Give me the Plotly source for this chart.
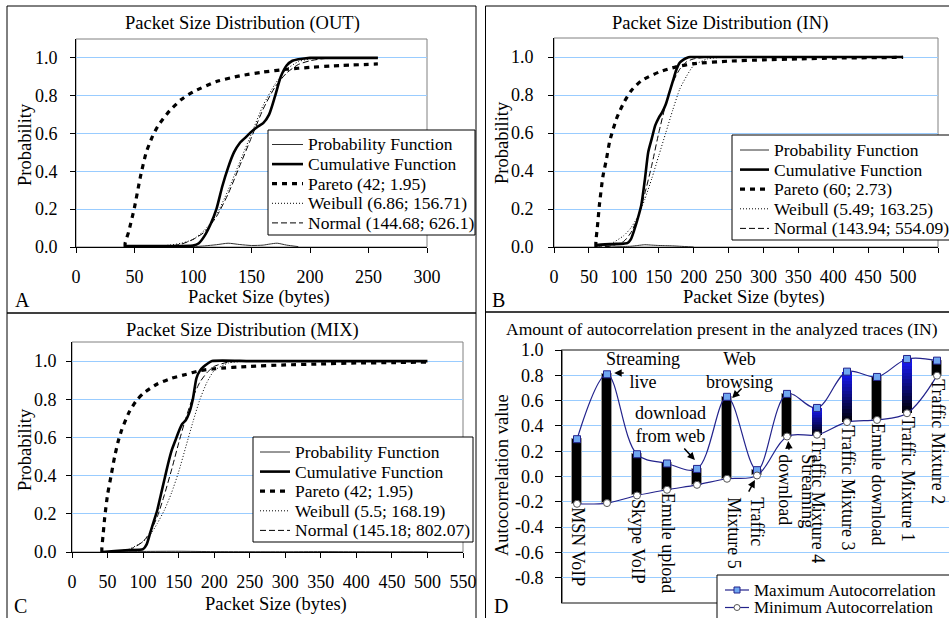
import plotly.graph_objects as go

FONT = "Liberation Serif"
W, H = 949, 618

# ---------------- Panel A: Packet Size Distribution (OUT) ----------------
a_prob_x = [42, 80, 100, 110, 120, 130, 140, 150, 160, 166, 172, 180, 190]
a_prob_y = [0.0, 0.0, 0.002, 0.006, 0.012, 0.02, 0.013, 0.008, 0.01, 0.016, 0.02, 0.01, 0.002]
a_cum_x = [42, 60, 80, 100, 105, 110, 115, 120, 125, 130, 135, 140, 145, 150, 155, 160, 165, 170, 175, 180, 185, 190, 195, 200, 210, 258]
a_cum_y = [0.005, 0.005, 0.005, 0.008, 0.02, 0.06, 0.12, 0.2, 0.32, 0.42, 0.5, 0.55, 0.58, 0.61, 0.635, 0.655, 0.7, 0.795, 0.9, 0.96, 0.985, 0.993, 0.997, 1.0, 1.0, 1.0]
a_par_x = [42, 42, 45, 50, 55, 60, 65, 70, 80, 90, 100, 120, 140, 160, 180, 200, 220, 258]
a_par_y = [0.0, 0.02, 0.08, 0.21, 0.37, 0.5, 0.58, 0.64, 0.72, 0.78, 0.82, 0.875, 0.905, 0.925, 0.94, 0.95, 0.958, 0.968]
a_wei_x = [60, 80, 90, 100, 110, 120, 130, 140, 150, 160, 170, 180, 190, 200, 210, 220, 258]
a_wei_y = [0.0, 0.01, 0.02, 0.04, 0.09, 0.17, 0.3, 0.45, 0.6, 0.75, 0.86, 0.94, 0.98, 0.995, 1.0, 1.0, 1.0]
a_nor_x = [60, 80, 90, 100, 110, 120, 130, 140, 150, 160, 170, 180, 190, 200, 210, 220, 258]
a_nor_y = [0.0, 0.005, 0.015, 0.04, 0.08, 0.16, 0.28, 0.43, 0.58, 0.73, 0.845, 0.92, 0.965, 0.985, 0.995, 1.0, 1.0]
a_names = ["Probability Function", "Cumulative Function", "Pareto (42; 1.95)",
           "Weibull (6.86; 156.71)", "Normal (144.68; 626.1)"]

# ---------------- Panel B: Packet Size Distribution (IN) ----------------
b_prob_x = [60, 80, 100, 110, 120, 130, 140, 150, 160, 170, 180, 200]
b_prob_y = [0.01, 0.006, 0.003, 0.004, 0.008, 0.012, 0.01, 0.008, 0.007, 0.006, 0.004, 0.0]
b_cum_x = [60, 80, 100, 105, 110, 115, 120, 125, 130, 135, 140, 145, 150, 155, 160, 165, 170, 175, 180, 185, 190, 195, 200, 300, 400, 500]
b_cum_y = [0.01, 0.015, 0.018, 0.02, 0.04, 0.09, 0.15, 0.22, 0.35, 0.5, 0.57, 0.64, 0.68, 0.71, 0.75, 0.81, 0.87, 0.93, 0.97, 0.985, 0.995, 1.0, 1.0, 1.0, 1.0, 1.0]
b_par_x = [60, 60, 62, 65, 70, 75, 80, 90, 100, 110, 125, 150, 175, 200, 250, 300, 350, 400, 500]
b_par_y = [0.0, 0.03, 0.1, 0.22, 0.37, 0.46, 0.56, 0.68, 0.76, 0.82, 0.875, 0.92, 0.948, 0.965, 0.978, 0.985, 0.99, 0.994, 0.998]
b_wei_x = [60, 80, 100, 110, 120, 130, 140, 150, 160, 170, 180, 190, 200, 220, 250, 300, 500]
b_wei_y = [0.003, 0.015, 0.06, 0.1, 0.16, 0.25, 0.36, 0.48, 0.6, 0.72, 0.83, 0.9, 0.955, 0.99, 1.0, 1.0, 1.0]
b_nor_x = [60, 80, 100, 110, 120, 130, 140, 150, 160, 170, 180, 190, 200, 220, 250, 500]
b_nor_y = [0.0, 0.004, 0.03, 0.075, 0.155, 0.28, 0.43, 0.6, 0.75, 0.865, 0.935, 0.975, 0.99, 0.999, 1.0, 1.0]
b_names = ["Probability Function", "Cumulative Function", "Pareto (60; 2.73)",
           "Weibull (5.49; 163.25)", "Normal (143.94; 554.09)"]

# ---------------- Panel C: Packet Size Distribution (MIX) ----------------
c_prob_x = [42, 100, 150, 200, 300, 350, 400, 500]
c_prob_y = [0.0, 0.003, 0.004, 0.002, 0.001, 0.002, 0.001, 0.0]
c_cum_x = [42, 60, 80, 100, 105, 110, 115, 120, 125, 130, 135, 140, 145, 150, 155, 160, 165, 170, 175, 180, 185, 190, 197, 250, 300, 400, 500]
c_cum_y = [0.0, 0.005, 0.01, 0.015, 0.04, 0.1, 0.16, 0.22, 0.3, 0.38, 0.46, 0.53, 0.58, 0.63, 0.67, 0.69, 0.73, 0.8, 0.91, 0.95, 0.97, 0.985, 1.0, 1.0, 1.0, 1.0, 1.0]
c_par_x = [42, 42, 44, 46, 50, 55, 60, 65, 70, 80, 90, 100, 120, 140, 160, 180, 200, 250, 300, 350, 400, 450, 500]
c_par_y = [0.0, 0.02, 0.1, 0.18, 0.3, 0.4, 0.5, 0.58, 0.64, 0.73, 0.79, 0.83, 0.88, 0.91, 0.93, 0.95, 0.96, 0.972, 0.98, 0.985, 0.99, 0.992, 0.995]
c_wei_x = [42, 60, 80, 100, 110, 120, 130, 140, 150, 160, 170, 180, 190, 200, 220, 250, 300, 500]
c_wei_y = [0.0, 0.003, 0.015, 0.055, 0.09, 0.15, 0.22, 0.31, 0.42, 0.55, 0.68, 0.8, 0.89, 0.95, 0.99, 1.0, 1.0, 1.0]
c_nor_x = [42, 60, 80, 100, 110, 120, 130, 140, 150, 160, 170, 180, 190, 200, 220, 250, 500]
c_nor_y = [0.0, 0.002, 0.01, 0.055, 0.105, 0.185, 0.3, 0.43, 0.57, 0.7, 0.81, 0.89, 0.94, 0.972, 0.995, 1.0, 1.0]
c_names = ["Probability Function", "Cumulative Function", "Pareto (42; 1.95)",
           "Weibull (5.5; 168.19)", "Normal (145.18; 802.07)"]

prob_ytick_vals = [0.0, 0.2, 0.4, 0.6, 0.8, 1.0]
prob_ytick_text = ["0.0", "0.2", "0.4", "0.6", "0.8", "1.0"]
a_xtick_vals = [0, 50, 100, 150, 200, 250, 300]
bc_xtick_vals = [0, 50, 100, 150, 200, 250, 300, 350, 400, 450, 500, 550]

# ---------------- Panel D: autocorrelation (IN) ----------------
d_cats = ["MSN VoIP", "Streaming live", "Skype VoIP", "Emule upload", "download from web",
          "Web browsing", "Traffic Mixture 5", "Streaming download", "Traffic Mixture 4",
          "Traffic Mixture 3", "Emule download", "Traffic Mixture 1", "Traffic Mixture 2"]
d_max = [0.295, 0.808, 0.176, 0.103, 0.06, 0.63, 0.05, 0.653, 0.542, 0.829, 0.787, 0.929, 0.916]
d_min = [-0.216, -0.21, -0.15, -0.105, -0.066, -0.018, 0.008, 0.316, 0.33, 0.43, 0.447, 0.5, 0.797]
d_ytick_vals = [-0.8, -0.6, -0.4, -0.2, 0.0, 0.2, 0.4, 0.6, 0.8, 1.0]
d_ytick_text = ["-0.8", "-0.6", "-0.4", "-0.2", "0.0", "0.2", "0.4", "0.6", "0.8", "1.0"]
d_names = ["Maximum Autocorrelation", "Minimum Autocorrelation"]
# categories labelled by call-outs instead of rotated labels
d_callouts = {"Streaming live", "download from web", "Web browsing", "Traffic Mixture 5", "Streaming download"}
# bars drawn with a blue-to-black gradient
d_blue = {"Traffic Mixture 4", "Traffic Mixture 3", "Traffic Mixture 1"}

# ---------------- styles ----------------
STY = [
    dict(color="#303030", width=1),
    dict(color="black", width=2.6),
    dict(color="black", width=3.2, dash="5px,5px"),
    dict(color="black", width=1, dash="1px,2px"),
    dict(color="black", width=1, dash="6px,3px"),
]
GRID = "#99ccff"
NAVY = "#23238c"
MAXFILL = "#6fa6f0"
LEGSIZE = 17.5
TSIZE = 18.5


def px(x):
    return x / W


def py(y):
    return 1 - y / H


fig = go.Figure()
shapes = []
annos = []


def txt(x, y, s, size=18, xa="center", ya="middle", **kw):
    annos.append(dict(xref="paper", yref="paper", x=px(x), y=py(y), text=s, showarrow=False,
                      xanchor=xa, yanchor=ya, font=dict(family=FONT, size=size, color="black"), **kw))


def legend_box(x0, y0, x1, y1, first, step, sx0, sx1, tx, entries, size=LEGSIZE):
    shapes.append(dict(type="rect", xref="paper", yref="paper", x0=px(x0), x1=px(x1), y0=py(y0), y1=py(y1),
                       line=dict(color="black", width=1), fillcolor="white", layer="above"))
    for k, (name, sty, mk) in enumerate(entries):
        yy = first + k * step
        ln = dict(color=sty["color"], width=sty["width"])
        if "dash" in sty:
            ln["dash"] = sty["dash"]
        shapes.append(dict(type="line", xref="paper", yref="paper", x0=px(sx0), x1=px(sx1), y0=py(yy), y1=py(yy),
                           line=ln, layer="above"))
        if mk is not None:
            cx = (sx0 + sx1) / 2
            r = 3
            shapes.append(dict(type=mk[0], xref="paper", yref="paper", x0=px(cx - r), x1=px(cx + r),
                               y0=py(yy + r), y1=py(yy - r), fillcolor=mk[1],
                               line=dict(color=mk[2], width=1), layer="above"))
        txt(tx, yy, name, size=size, xa="left")


panels = [
    dict(n="", data=[(a_prob_x, a_prob_y), (a_cum_x, a_cum_y), (a_par_x, a_par_y), (a_wei_x, a_wei_y), (a_nor_x, a_nor_y)],
         names=a_names, xr=[0, 300], xt=a_xtick_vals, dom=(76, 427, 39, 247), ysd=9,
         leg=(268, 130, 475, 235, 144.5, 19.6, 272, 303, 306)),
    dict(n="2", data=[(b_prob_x, b_prob_y), (b_cum_x, b_cum_y), (b_par_x, b_par_y), (b_wei_x, b_wei_y), (b_nor_x, b_nor_y)],
         names=b_names, xr=[0, 550], xt=bc_xtick_vals, dom=(554, 938, 38, 247), ysd=11,
         leg=(732, 135, 951, 240, 150, 19.6, 740, 769, 772)),
    dict(n="3", data=[(c_prob_x, c_prob_y), (c_cum_x, c_cum_y), (c_par_x, c_par_y), (c_wei_x, c_wei_y), (c_nor_x, c_nor_y)],
         names=c_names, xr=[0, 550], xt=bc_xtick_vals, dom=(72, 463, 342, 552), ysd=6,
         leg=(253, 437, 473, 542, 452, 19.6, 260, 290, 293)),
]

layout_axes = {}
for p in panels:
    n = p["n"]
    order = [0, 4, 3, 2, 1]
    for i in order:
        xs, ys = p["data"][i]
        ln = dict(STY[i])
        ln["shape"] = "spline"
        ln["smoothing"] = 0.6
        fig.add_trace(go.Scatter(x=xs, y=ys, mode="lines", name=p["names"][i], line=ln,
                                 xaxis="x" + n, yaxis="y" + n, showlegend=False, hoverinfo="skip"))
    x0, x1, y0, y1 = p["dom"]
    layout_axes["xaxis" + n] = dict(
        domain=[px(x0), px(x1)], range=p["xr"], tickvals=p["xt"], showgrid=False, zeroline=False,
        showline=True, linecolor="black", linewidth=1, ticks="outside", ticklen=5, tickcolor="black",
        tickfont=dict(family=FONT, size=18, color="black"), ticklabelstandoff=8, automargin=False,
        anchor="y" + n, fixedrange=True)
    layout_axes["yaxis" + n] = dict(
        domain=[py(y1), py(y0)], range=[0, 1.1], tickvals=prob_ytick_vals, ticktext=prob_ytick_text,
        showgrid=True, gridcolor=GRID, gridwidth=1, zeroline=False,
        showline=True, linecolor="black", linewidth=1, ticks="outside", ticklen=5, tickcolor="black",
        tickfont=dict(family=FONT, size=18, color="black"), ticklabelstandoff=p["ysd"], automargin=False,
        anchor="x" + n, fixedrange=True)
    shapes.append(dict(type="rect", xref="x%s domain" % n, yref="y%s domain" % n, x0=0, x1=1, y0=0, y1=1,
                       line=dict(color="#808080", width=1), layer="below"))
    L = p["leg"]
    legend_box(L[0], L[1], L[2], L[3], L[4], L[5], L[6], L[7], L[8],
               [(p["names"][i], STY[i], None) for i in range(5)])

# ---------------- Panel D traces ----------------
black_idx = [i for i, c in enumerate(d_cats) if c not in d_blue]
fig.add_trace(go.Bar(
    x=[d_cats[i] for i in black_idx], base=[d_min[i] for i in black_idx],
    y=[d_max[i] - d_min[i] for i in black_idx], width=0.36,
    marker=dict(color="black", line=dict(color="#9a9a9a", width=1)),
    xaxis="x4", yaxis="y4", showlegend=False, hoverinfo="skip"))
blue_idx = [i for i, c in enumerate(d_cats) if c in d_blue]
NSEG = 16
for k in range(NSEG):
    f = (k + 0.5) / NSEG
    col = "rgb(%d,%d,%d)" % (int(25 * f), int(25 * f), int(250 * f))
    fig.add_trace(go.Bar(
        x=[d_cats[i] for i in blue_idx],
        base=[d_min[i] + (d_max[i] - d_min[i]) * k / NSEG for i in blue_idx],
        y=[(d_max[i] - d_min[i]) / NSEG * 1.02 for i in blue_idx], width=0.36,
        marker=dict(color=col, line=dict(width=0)),
        xaxis="x4", yaxis="y4", showlegend=False, hoverinfo="skip"))

fig.add_trace(go.Scatter(
    x=d_cats, y=d_max, mode="lines+markers", name=d_names[0],
    line=dict(color=NAVY, width=1.2, shape="spline", smoothing=1.0),
    marker=dict(symbol="square", size=7, color=MAXFILL, line=dict(color=NAVY, width=1)),
    xaxis="x4", yaxis="y4", showlegend=False, hoverinfo="skip"))
fig.add_trace(go.Scatter(
    x=d_cats, y=d_min, mode="lines+markers", name=d_names[1],
    line=dict(color=NAVY, width=1.2, shape="spline", smoothing=1.0),
    marker=dict(symbol="circle", size=7, color="white", line=dict(color="#555555", width=1)),
    xaxis="x4", yaxis="y4", showlegend=False, hoverinfo="skip"))

layout_axes["xaxis4"] = dict(
    domain=[px(562), 1.0], type="category", categoryorder="array", categoryarray=d_cats,
    range=[-0.5, 12.4], showticklabels=False, showgrid=False, zeroline=False, ticks="",
    showline=False, anchor="y4", fixedrange=True, automargin=False)
layout_axes["yaxis4"] = dict(
    domain=[py(603), py(350)], range=[-1.0, 1.0], tickvals=d_ytick_vals, ticktext=d_ytick_text,
    showgrid=True, gridcolor=GRID, gridwidth=1, zeroline=False,
    showline=True, linecolor="black", linewidth=1, ticks="outside", ticklen=6, tickcolor="black",
    tickfont=dict(family=FONT, size=18, color="black"), ticklabelstandoff=8, automargin=False,
    anchor="x4", fixedrange=True)
shapes.append(dict(type="rect", xref="x4 domain", yref="y4 domain", x0=0, x1=1.02, y0=0, y1=1,
                   line=dict(color="#606060", width=1.5), layer="below"))

# rotated category labels under the minimum points
for i, c in enumerate(d_cats):
    if c in d_callouts:
        continue
    annos.append(dict(xref="x4", yref="y4", x=c, y=d_min[i], text=c, textangle=90, showarrow=False,
                      xanchor="center", yanchor="top", xshift=1, yshift=-1,
                      font=dict(family=FONT, size=18, color="black")))


# call-outs
def dtext(x, y, s, angle=0, ya="middle", align="center"):
    annos.append(dict(xref="x4", yref="y4", x=x, y=y, text=s, textangle=angle, showarrow=False,
                      xanchor="center", yanchor=ya, align=align,
                      font=dict(family=FONT, size=18, color="black")))


def darrow(x, y, ax, ay):
    annos.append(dict(xref="x4", yref="y4", x=x, y=y, text="", showarrow=True, ax=ax, ay=ay,
                      arrowhead=2, arrowsize=1, arrowwidth=1.5, arrowcolor="black", standoff=0))


dtext(2.2, 0.84, "Streaming<br>live")
dtext(3.1, 0.41, "download<br>from web")
dtext(5.43, 0.84, "Web<br>browsing")
dtext(5.62, -0.145, "Traffic<br>Mixture 5", angle=90, ya="top", align="left")
dtext(7.32, 0.195, "Streaming<br>download", angle=90, ya="top", align="left")
darrow(1.24, 0.818, 11, 0)
darrow(3.93, 0.13, -12, -13)
darrow(5.17, 0.62, 11, -11)
darrow(5.93, -0.028, -7, 13)
darrow(7.04, 0.28, 1, 10)

legend_box(717, 575, 952, 622, 590, 17.5, 725, 749, 752,
           [(d_names[0], dict(color=NAVY, width=1.2), ("rect", MAXFILL, NAVY)),
            (d_names[1], dict(color=NAVY, width=1.2), ("circle", "white", "#555555"))], size=17)

# ---------------- titles, axis titles, panel letters ----------------
txt(242, 24, "Packet Size Distribution (OUT)", size=TSIZE)
txt(720, 24, "Packet Size Distribution (IN)", size=TSIZE)
txt(243, 330, "Packet Size Distribution (MIX)", size=TSIZE)
txt(722, 329, "Amount of autocorrelation present in the analyzed traces (IN)", size=17.5)
txt(259, 298, "Packet Size (bytes)", size=TSIZE)
txt(754, 298, "Packet Size (bytes)", size=TSIZE)
txt(276, 604, "Packet Size (bytes)", size=TSIZE)
txt(25, 145, "Probability", size=TSIZE, textangle=-90)
txt(502, 143, "Probability", size=TSIZE, textangle=-90)
txt(25, 450, "Probability", size=TSIZE, textangle=-90)
txt(502, 475, "Autocorrelation value", size=TSIZE, textangle=-90)
txt(22, 300, "A", size=20)
txt(498, 300, "B", size=20)
txt(20, 606, "C", size=20)
txt(501, 606, "D", size=20)

# panel frames
for (x0, y0, x1, y1) in [(7, 6, 476, 313), (485.5, 6, 952, 312), (7, 313, 476, 622), (485.5, 312, 952, 622)]:
    shapes.append(dict(type="rect", xref="paper", yref="paper", x0=px(x0), x1=px(x1), y0=py(y1), y1=py(y0),
                       line=dict(color="black", width=1), layer="below"))

fig.update_layout(
    width=W, height=H, margin=dict(l=0, r=0, t=0, b=0, autoexpand=False),
    paper_bgcolor="white", plot_bgcolor="white", barmode="overlay", bargap=0,
    font=dict(family=FONT, size=18, color="black"),
    showlegend=False, shapes=shapes, annotations=annos, **layout_axes)

fig.write_html("out.html")
